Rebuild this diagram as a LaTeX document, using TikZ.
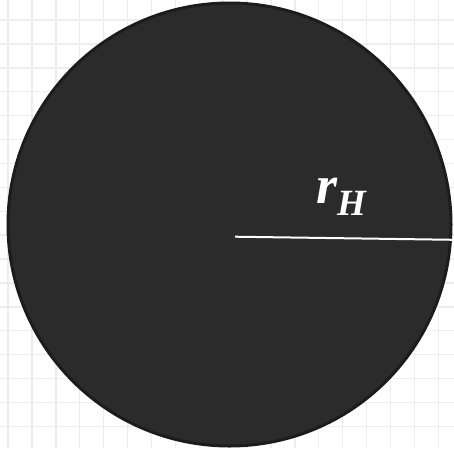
\documentclass[tikz,border=0pt]{standalone}
\usepackage{fontspec}
\setmainfont{Liberation Serif}
\definecolor{gridc}{HTML}{EDEDED}
\definecolor{discfill}{HTML}{2B2B2B}
\definecolor{discedge}{HTML}{1C1C1C}
\begin{document}
\begin{tikzpicture}[x=1pt,y=-1pt,
  gridline/.style={draw=gridc,line width=1.4pt},
  disc/.style={fill=discfill,draw=discedge,line width=3pt},
  radius line/.style={draw=white,line width=2pt},
  lbl/.style={text=white,inner sep=0pt,anchor=base west,font=\bfseries\itshape}]
\useasboundingbox (0,0) rectangle (454,448);
\fill[white] (0,0) rectangle (454,448);
\foreach \k in {0,...,18} \draw[gridline] ({8+23.9*\k},0) -- ({8+23.9*\k},448);
\foreach \k in {0,...,17} \draw[gridline] (0,{20+23.9*\k}) -- (454,{20+23.9*\k});
\node[disc,circle,minimum size=443pt,inner sep=0pt] (D) at (229.5,224.5) {};
\coordinate (C) at (235,236.7);
\coordinate (E) at (454,239.8);
\draw[radius line] (C) -- (E);
\node[lbl] (R) at (316,203) {\fontsize{54}{54}\selectfont r\raisebox{-12pt}{\fontsize{37}{37}\selectfont H}};
\end{tikzpicture}
\end{document}
